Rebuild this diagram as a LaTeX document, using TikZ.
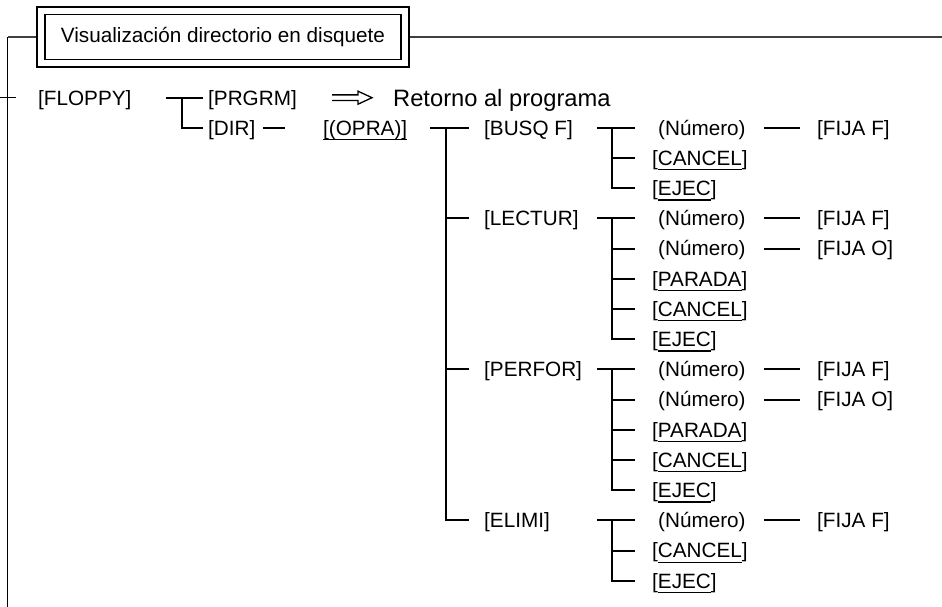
\documentclass[tikz,border=0pt]{standalone}
\usepackage{fontspec}
\setmainfont{Liberation Sans}
\usetikzlibrary{calc}
\newcommand{\ukey}[1]{\begingroup\setbox0\hbox{#1}\rlap{\rule[-5pt]{\wd0}{1.2pt}}\box0\endgroup}
\begin{document}
\begin{tikzpicture}[x=1pt,y=-1pt,
  lbl/.style={inner sep=0pt, anchor=west, text height=14.8pt, text depth=0pt,
    font=\fontsize{20.7}{24}\selectfont},
  bigl/.style={inner sep=0pt, anchor=west, text height=17pt, text depth=0pt,
    font=\fontsize{23.7}{28}\selectfont},
  tree/.style={line width=2pt, line cap=butt},
  frame/.style={line width=1.5pt, draw=black!75},
  edge/.style={line width=1.4pt}]
\useasboundingbox (0,0) rectangle (942,607);

% ---- title
\node[draw, line width=1.2pt, minimum width=356pt, minimum height=45pt, inner sep=0pt,
  font=\fontsize{20.7}{24}\selectfont] (title) at (223,36.8) {Visualización directorio en disquete};
\node[draw, line width=2pt, minimum width=372pt, minimum height=60pt, inner sep=0pt] (titleouter) at (title.center) {};
\coordinate (tr) at (942,36.8);
\coordinate (tl) at (7.5,36.8);
\coordinate (bl) at (7.5,607);
\coordinate (t0) at (0,97.7);
\coordinate (t1) at (16,97.7);
\draw[frame] (titleouter.east) -- (tr);
\draw[frame] (titleouter.west) -- (tl);
\draw[edge] (tl) -- (bl);
\draw[edge] (t0) -- (t1);

% ---- level 0 / 1
\node[lbl] (floppy) at (38,97.7) {[FLOPPY]};
\node[lbl] (prgrm) at (208,97.7) {[PRGRM]};
\node[bigl] (ret) at (393,97.7) {Retorno al programa};
\node[lbl] (dir) at (208,127.7) {[DIR]};
\node[lbl] (opra) at (323,127.7) {\ukey{[(OPRA)]}};

\coordinate (fs) at (166,97.7);
\coordinate (fj) at (182,97.7);
\draw[tree] (fs) -- ([xshift=-5pt]prgrm.west);
\draw[tree] (fj) |- ([xshift=-5pt]dir.west);

\coordinate (ds) at (263,127.7);
\draw[tree] (ds) -- ([xshift=-38pt]opra.west);

% double outline arrow
\coordinate (as) at (332,97.7);
\coordinate (ae) at ([xshift=-21pt]ret.west);
\draw[line width=1.3pt, line join=miter]
  ($(as)+(0,-2.8)$) -- ($(ae)+(-14,-2.8)$) -- ($(ae)+(-14,-6.5)$) -- (ae)
  -- ($(ae)+(-14,6.5)$) -- ($(ae)+(-14,2.8)$) -- ($(as)+(0,2.8)$);

% ---- level 2
\node[lbl] (busq)   at (484,127.7) {[BUSQ F]};
\node[lbl] (lectur) at (484,218.3) {[LECTUR]};
\node[lbl] (perfor) at (484,369.3) {[PERFOR]};
\node[lbl] (elimi)  at (484,520.3) {[ELIMI]};

\coordinate (os) at (430,127.7);
\coordinate (oj) at (446,127.7);
\draw[tree] (os) -- ([xshift=-15pt]busq.west);
\draw[tree] (oj) |- ([xshift=-15pt]elimi.west);
\draw[tree] (oj |- lectur.west) -- ([xshift=-15pt]lectur.west);
\draw[tree] (oj |- perfor.west) -- ([xshift=-15pt]perfor.west);

% ---- BUSQ F children
\node[lbl] (b1)  at (658,127.7) {(Número)};
\node[lbl] (b1f) at (817,127.7) {[FIJA F]};
\node[lbl] (b2)  at (652,157.9) {[\ukey{CANCEL}]};
\node[lbl] (b3)  at (652,188.1) {[\ukey{EJEC}]};
\coordinate (bs) at (597,127.7);
\coordinate (bj) at (612,127.7);
\draw[tree] (bs) -- ([xshift=-23pt]b1.west);
\draw[tree] (bj) |- ([xshift=-17pt]b3.west);
\draw[tree] (bj |- b2.west) -- ([xshift=-17pt]b2.west);
\draw[tree] ([xshift=18pt]b1.east) -- ([xshift=-17pt]b1f.west);

% ---- LECTUR children
\node[lbl] (l1)  at (658,218.3) {(Número)};
\node[lbl] (l1f) at (817,218.3) {[FIJA F]};
\node[lbl] (l2)  at (658,248.5) {(Número)};
\node[lbl] (l2f) at (817,248.5) {[FIJA O]};
\node[lbl] (l3)  at (652,278.7) {[\ukey{PARADA}]};
\node[lbl] (l4)  at (652,308.9) {[\ukey{CANCEL}]};
\node[lbl] (l5)  at (652,339.1) {[\ukey{EJEC}]};
\coordinate (ls) at (597,218.3);
\coordinate (lj) at (612,218.3);
\draw[tree] (ls) -- ([xshift=-23pt]l1.west);
\draw[tree] (lj) |- ([xshift=-17pt]l5.west);
\draw[tree] (lj |- l2.west) -- ([xshift=-23pt]l2.west);
\draw[tree] (lj |- l3.west) -- ([xshift=-17pt]l3.west);
\draw[tree] (lj |- l4.west) -- ([xshift=-17pt]l4.west);
\draw[tree] ([xshift=18pt]l1.east) -- ([xshift=-17pt]l1f.west);
\draw[tree] ([xshift=18pt]l2.east) -- ([xshift=-17pt]l2f.west);

% ---- PERFOR children
\node[lbl] (p1)  at (658,369.3) {(Número)};
\node[lbl] (p1f) at (817,369.3) {[FIJA F]};
\node[lbl] (p2)  at (658,399.5) {(Número)};
\node[lbl] (p2f) at (817,399.5) {[FIJA O]};
\node[lbl] (p3)  at (652,429.7) {[\ukey{PARADA}]};
\node[lbl] (p4)  at (652,459.9) {[\ukey{CANCEL}]};
\node[lbl] (p5)  at (652,490.1) {[\ukey{EJEC}]};
\coordinate (ps) at (597,369.3);
\coordinate (pj) at (612,369.3);
\draw[tree] (ps) -- ([xshift=-23pt]p1.west);
\draw[tree] (pj) |- ([xshift=-17pt]p5.west);
\draw[tree] (pj |- p2.west) -- ([xshift=-23pt]p2.west);
\draw[tree] (pj |- p3.west) -- ([xshift=-17pt]p3.west);
\draw[tree] (pj |- p4.west) -- ([xshift=-17pt]p4.west);
\draw[tree] ([xshift=18pt]p1.east) -- ([xshift=-17pt]p1f.west);
\draw[tree] ([xshift=18pt]p2.east) -- ([xshift=-17pt]p2f.west);

% ---- ELIMI children
\node[lbl] (e1)  at (658,520.3) {(Número)};
\node[lbl] (e1f) at (817,520.3) {[FIJA F]};
\node[lbl] (e2)  at (652,550.5) {[\ukey{CANCEL}]};
\node[lbl] (e3)  at (652,580.7) {[\ukey{EJEC}]};
\coordinate (es) at (597,520.3);
\coordinate (ej) at (612,520.3);
\draw[tree] (es) -- ([xshift=-23pt]e1.west);
\draw[tree] (ej) |- ([xshift=-17pt]e3.west);
\draw[tree] (ej |- e2.west) -- ([xshift=-17pt]e2.west);
\draw[tree] ([xshift=18pt]e1.east) -- ([xshift=-17pt]e1f.west);
\end{tikzpicture}
\end{document}
